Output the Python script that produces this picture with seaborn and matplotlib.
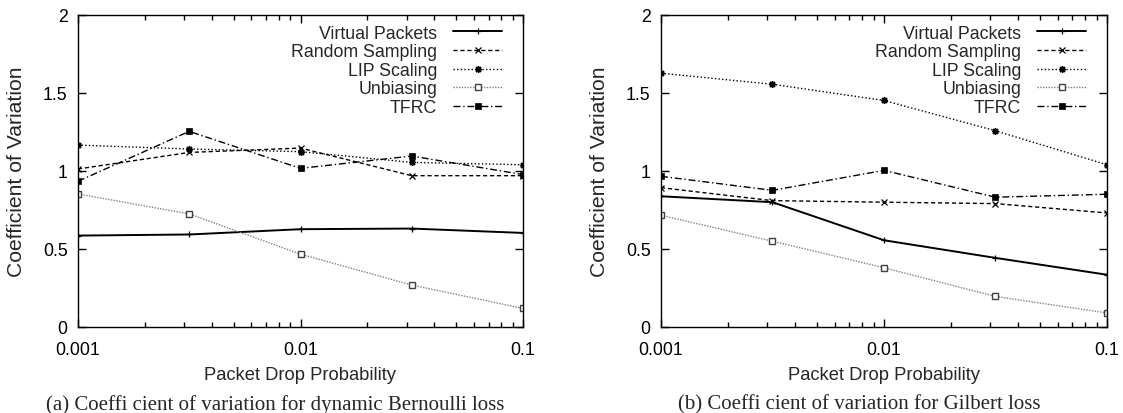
import matplotlib
matplotlib.use("Agg")
import matplotlib.pyplot as plt
import matplotlib.ticker as mticker
import seaborn as sns

# Packet drop probabilities (x axis, log scale)
DROP_PROB = [0.001, 0.00316, 0.01, 0.0316, 0.1]
METHODS = ["Virtual Packets", "Random Sampling", "LIP Scaling", "Unbiasing", "TFRC"]

# (a) dynamic Bernoulli loss
BERN_VIRTUAL = [0.586, 0.593, 0.627, 0.631, 0.603]
BERN_RANDOM = [1.013, 1.119, 1.147, 0.970, 0.970]
BERN_LIP = [1.166, 1.141, 1.124, 1.055, 1.040]
BERN_UNBIAS = [0.853, 0.725, 0.467, 0.269, 0.119]
BERN_TFRC = [0.934, 1.254, 1.017, 1.096, 0.977]

# (b) Gilbert loss
GIL_VIRTUAL = [0.838, 0.800, 0.556, 0.443, 0.335]
GIL_RANDOM = [0.893, 0.810, 0.800, 0.791, 0.731]
GIL_LIP = [1.627, 1.556, 1.452, 1.258, 1.040]
GIL_UNBIAS = [0.716, 0.550, 0.380, 0.196, 0.090]
GIL_TFRC = [0.966, 0.876, 1.004, 0.832, 0.851]

X_TICKS = [0.001, 0.01, 0.1]
X_TICK_LABELS = ["0.001", "0.01", "0.1"]
Y_TICKS = [0, 0.5, 1, 1.5, 2]
Y_TICK_LABELS = ["0", "0.5", "1", "1.5", "2"]

CAPTIONS = [
    "(a) Coeffi cient of variation for dynamic Bernoulli loss",
    "(b) Coeffi cient of variation for Gilbert loss",
]

# gnuplot-ish styles per method
STYLES = {
    "Virtual Packets": dict(color="black", linestyle="-", linewidth=1.4,
                            marker="+", markersize=5, markeredgewidth=0.9,
                            markeredgecolor="black"),
    "Random Sampling": dict(color="black", linestyle=(0, (3, 2)), linewidth=1.0,
                            marker="x", markersize=4, markeredgewidth=0.9,
                            markeredgecolor="black"),
    "LIP Scaling": dict(color="black", linestyle=(0, (1, 1.6)), linewidth=1.0,
                        marker=(8, 2, 0), markersize=5, markeredgewidth=1.0,
                        markeredgecolor="black"),
    "Unbiasing": dict(color="#808080", linestyle=(0, (1, 1)), linewidth=1.0,
                      marker="s", markersize=5, markeredgewidth=1.0,
                      markeredgecolor="#404040", markerfacecolor="white"),
    "TFRC": dict(color="black", linestyle=(0, (5, 2, 1, 2)), linewidth=1.0,
                 marker="s", markersize=4.5, markeredgewidth=0.5,
                 markeredgecolor="black", markerfacecolor="black"),
}

sns.set_style("ticks")
plt.rcParams["font.family"] = ["Liberation Sans", "DejaVu Sans"]
plt.rcParams.update({
    "font.size": 12.8,
    "xtick.direction": "in",
    "ytick.direction": "in",
    "xtick.top": True,
    "ytick.right": True,
    "xtick.major.size": 6,
    "ytick.major.size": 6,
    "xtick.minor.size": 3.5,
    "xtick.major.pad": 10,
    "ytick.major.pad": 7.5,
    "axes.linewidth": 1.0,
})

panels = [
    [BERN_VIRTUAL, BERN_RANDOM, BERN_LIP, BERN_UNBIAS, BERN_TFRC],
    [GIL_VIRTUAL, GIL_RANDOM, GIL_LIP, GIL_UNBIAS, GIL_TFRC],
]

W, H = 1123, 414
fig = plt.figure(figsize=(W / 100, H / 100), dpi=100)
# (left px, width px, caption centre px)
boxes = [(78, 445, 275), (661, 446, 859)]
bottom = (H - 328) / H
height = 312 / H

for (left, width, cap_x), series, caption in zip(boxes, panels, CAPTIONS):
    ax = fig.add_axes([left / W, bottom, width / W, height])
    for name, vals in zip(METHODS, series):
        sns.lineplot(x=DROP_PROB, y=vals, ax=ax, label=name, **STYLES[name])

    ax.set_xscale("log")
    ax.set_xlim(0.001, 0.1)
    ax.set_ylim(0, 2)
    ax.set_xticks(X_TICKS)
    ax.set_xticklabels(X_TICK_LABELS)
    ax.xaxis.set_minor_locator(mticker.LogLocator(base=10, subs=range(2, 10)))
    ax.xaxis.set_minor_formatter(mticker.NullFormatter())
    ax.set_yticks(Y_TICKS)
    ax.set_yticklabels(Y_TICK_LABELS)
    ax.tick_params(which="both", colors="black", width=1.0)
    ax.set_xlabel("Packet Drop Probability", fontsize=13.2)
    ax.set_ylabel("Coefficient of Variation", fontsize=15.2)
    ax.xaxis.set_label_coords(0.5, -0.125)
    ax.yaxis.set_label_coords(-0.117, 0.5)
    for sp in ax.spines.values():
        sp.set_visible(True)
        sp.set_color("black")

    leg = ax.legend(loc="upper right", bbox_to_anchor=(0.953, 0.969),
                    frameon=False, markerfirst=False, numpoints=1,
                    handlelength=2.75, handletextpad=0.9,
                    labelspacing=0.09, borderaxespad=0, borderpad=0)
    for col in leg._legend_handle_box.get_children():
        col.align = "right"

    fig.text(cap_x / W, (H - 405) / H, caption, ha="center", va="center",
             fontsize=15, family=["Liberation Serif", "DejaVu Serif"])

fig.savefig("out.png", dpi=100)
